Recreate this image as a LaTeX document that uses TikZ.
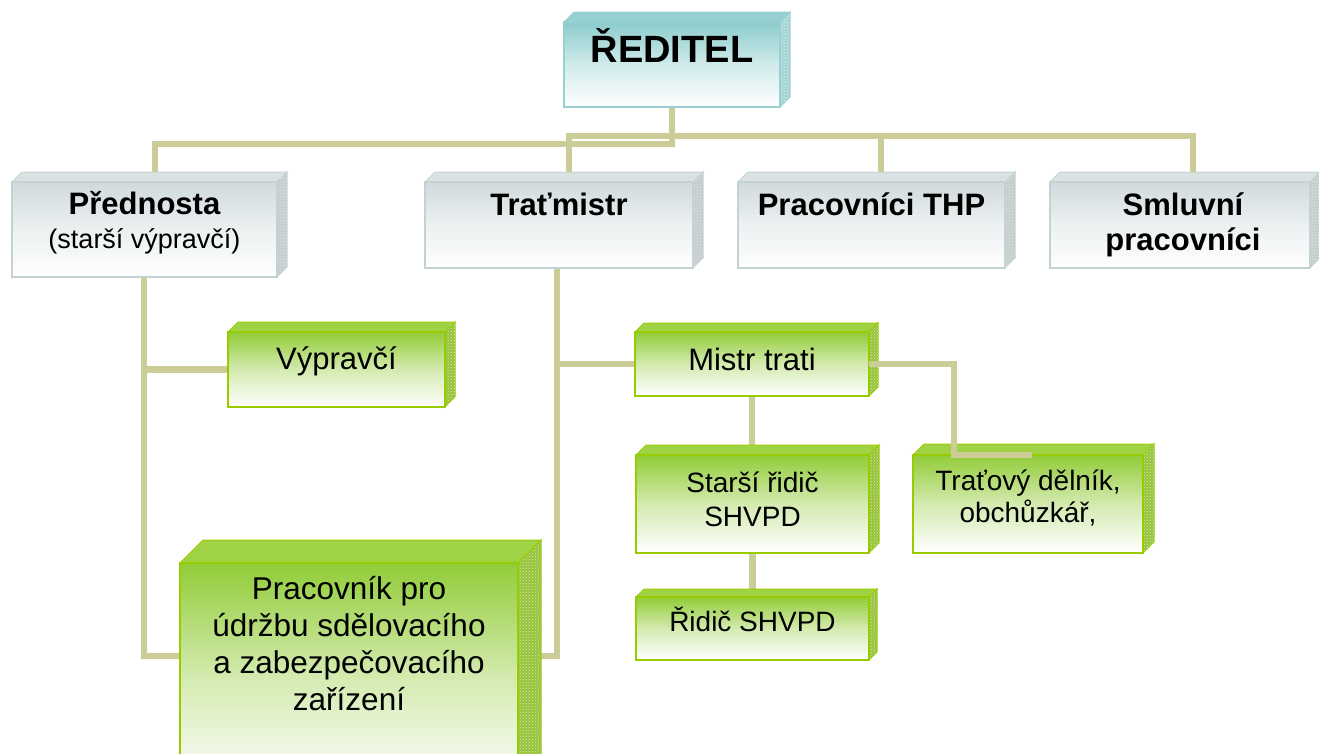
\documentclass[tikz,border=0pt]{standalone}
\usepackage{fontspec}
\setmainfont{Liberation Sans}
\usetikzlibrary{backgrounds,patterns}
\definecolor{conncol}{RGB}{204,204,153}
\definecolor{grayfront}{RGB}{208,218,220}
\definecolor{graytop}{RGB}{218,226,228}
\definecolor{grayside}{RGB}{196,204,206}
\definecolor{grayborder}{RGB}{196,210,212}
\definecolor{tealfront}{RGB}{140,204,204}
\definecolor{tealtop}{RGB}{150,208,208}
\definecolor{tealside}{RGB}{165,212,212}
\definecolor{tealborder}{RGB}{150,208,208}
\definecolor{greenfront}{RGB}{146,204,56}
\definecolor{greentop}{RGB}{160,210,70}
\definecolor{greenside}{RGB}{150,196,60}
\definecolor{greenborder}{RGB}{153,204,0}
\newcommand{\setfs}[2]{\fontsize{#1}{#2}\selectfont}
\newcommand{\cubebox}[7]{%
  \filldraw[fill=#2top, draw=#2border, line width=1pt] (#3,#4) -- ++(#7,-#7) -- ++(#5-#3,0) -- (#5,#4) -- cycle;
  \filldraw[fill=#2side, draw=#2border, line width=1pt] (#5,#4) -- ++(#7,-#7) -- ++(0,#6-#4) -- (#5,#6) -- cycle;
  \fill[pattern=crosshatch dots, pattern color=white!60!#2side] (#5,#4) -- ++(#7,-#7) -- ++(0,#6-#4) -- (#5,#6) -- cycle;
  \node[cubefront=#2, minimum width={(#5-#3)*1pt}, minimum height={(#6-#4)*1pt}] (#1) at ({(#3+#5)/2},{(#4+#6)/2}) {};
}
\tikzset{
  conn/.style={draw=conncol, line width=6.5pt},
  cubefront/.style={draw=#1border, line width=1.5pt, top color=#1front, bottom color=white, middle color=#1front!40!white, inner sep=0pt, outer sep=0pt},
  lbl/.style={anchor=base, align=center, inner sep=0pt},
}
\begin{document}
\begin{tikzpicture}[x=1pt,y=-1pt]
\useasboundingbox (0,0) rectangle (1319,753);
\clip (0,0) rectangle (1319,753);
\begin{pgfonlayer}{background}
\fill[white] (0,0) rectangle (1319,753);
\end{pgfonlayer}

\cubebox{reditel}{teal}{564}{22}{780}{107}{10}
\cubebox{prednosta}{gray}{12}{182}{277}{277}{10}
\cubebox{tratmistr}{gray}{425}{182}{693}{268}{10}
\cubebox{thp}{gray}{738}{182}{1005}{268}{10}
\cubebox{smluvni}{gray}{1050}{182}{1310}{268}{10}
\cubebox{vypravci}{green}{228}{332}{445}{407}{10}
\cubebox{mistr}{green}{635}{332}{869}{396}{9}
\cubebox{starsi}{green}{636}{455}{869}{553}{10}
\cubebox{tratovy}{green}{913}{455}{1143}{553}{11}
\cubebox{ridic}{green}{636}{597}{869}{660}{8}
\cubebox{pracovnik}{green}{180}{563}{518}{790}{23}

% anchor=base of a multi-line label is the baseline of its last line
\node[lbl, font=\bfseries\setfs{38}{44}] (t-reditel) at (672,62) {ŘEDITEL};
\node[lbl, font=\setfs{27}{34}] (t-prednosta) at (144.5,248) {{\bfseries\setfs{31}{34}Přednosta}\\(starší výpravčí)};
\node[lbl, font=\bfseries\setfs{31}{35}] (t-tratmistr) at (559,215) {Traťmistr};
\node[lbl, font=\bfseries\setfs{31}{35}] (t-thp) at (871.5,215) {Pracovníci THP};
\node[lbl, font=\bfseries\setfs{31}{35}] (t-smluvni) at (1183,250) {Smluvní\\pracovníci};
\node[lbl, font=\setfs{31}{35}] (t-vypravci) at (336.5,369) {Výpravčí};
\node[lbl, font=\setfs{31}{35}] (t-mistr) at (752,370) {Mistr trati};
\node[lbl, font=\setfs{28}{34}] (t-starsi) at (752.5,526) {Starší řidič\\SHVPD};
\node[lbl, font=\setfs{28}{32}] (t-tratovy) at (1028,522) {Traťový dělník,\\obchůzkář,};
\node[lbl, font=\setfs{28}{34}] (t-ridic) at (752.5,631) {Řidič SHVPD};
\node[lbl, font=\setfs{31.5}{36.7}] (t-pracovnik) at (349,710) {Pracovník pro\\údržbu sdělovacího\\a zabezpečovacího\\zařízení};

\begin{pgfonlayer}{background}
\draw[conn] (reditel.south) |- (155,144) -- (155,0 |- prednosta.north);
\draw[conn] (569,0 |- tratmistr.north) |- (1193,136) -- (1193,0 |- smluvni.north);
\draw[conn] (881,136) -- (881,0 |- thp.north);
\draw[conn] (144,0 |- prednosta.south) |- (pracovnik.west |- 0,656);
\draw[conn] (144,0 |- vypravci.west) -- (vypravci.west);
\draw[conn] (557,0 |- tratmistr.south) |- (pracovnik.east |- 0,656);
\draw[conn] (557,0 |- mistr.west) -- (mistr.west);
\draw[conn] (mistr.south) -- (mistr.south |- starsi.north);
\draw[conn] (starsi.south) -- (starsi.south |- ridic.north);
\end{pgfonlayer}
\draw[conn] (mistr.east) -| (954,0 |- tratovy.north) -- (1032,0 |- tratovy.north);
\end{tikzpicture}
\end{document}
